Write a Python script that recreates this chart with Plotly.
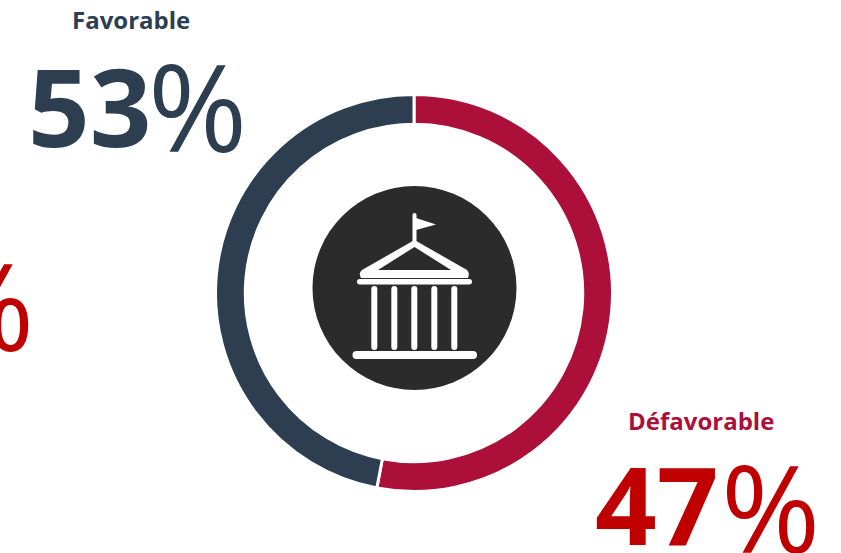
import plotly.graph_objects as go

categories = ["Défavorable", "Favorable"]
drawn_shares = [53, 47]
slice_colors = ["#AB0F3A", "#2C3E50"]
labels = ["Favorable", "Défavorable"]
label_pct = ["53", "47"]

W, H = 841, 553
NAVY, CRIMSON, RED = "#2C3E50", "#AB0F3A", "#C00000"


def rrect(x0, y0, x1, y1, fill="white"):
    r = min(x1 - x0, y1 - y0) / 2
    p = (f"M{x0+r},{y0} L{x1-r},{y0} Q{x1},{y0} {x1},{y0+r} L{x1},{y1-r} Q{x1},{y1} {x1-r},{y1} "
         f"L{x0+r},{y1} Q{x0},{y1} {x0},{y1-r} L{x0},{y0+r} Q{x0},{y0} {x0+r},{y0} Z")
    return dict(type="path", path=p, fillcolor=fill, line_width=0, xref="x", yref="y", layer="above")


shapes = [
    dict(type="circle", x0=312.5, x1=516.5, y0=186, y1=390, fillcolor="#2B2B2B", line_width=0,
         xref="x", yref="y", layer="above"),
    rrect(412.5, 213, 416.5, 243),
    dict(type="path", path="M416,218 L436,224.5 L416,230 Z", fillcolor="white", line_width=0,
         xref="x", yref="y", layer="above"),
    dict(type="path",
         path="M414.5,240 L467,270 Q470,273 468,278 L361,278 Q358,273 362,270 Z M414.5,247 L378,270 L451,270 Z",
         fillcolor="white", line_width=0, xref="x", yref="y", layer="above"),
    rrect(357, 279, 472, 284.5),
    rrect(352.5, 351, 477, 359),
]
for cx in [374.3, 394.3, 414.3, 434.3, 454.3]:
    shapes.append(rrect(cx - 3, 286, cx + 3, 350))

fig = go.Figure()
fig.add_trace(go.Scatter(x=[], y=[], showlegend=False))
fig.add_trace(go.Pie(
    labels=categories, values=drawn_shares, hole=0.85, sort=False, direction="clockwise", rotation=0,
    marker=dict(colors=slice_colors, line=dict(color="white", width=3)),
    textinfo="none", hoverinfo="label+percent", showlegend=False,
    domain=dict(x=[215.5 / W, 612.5 / W], y=[1 - 491.5 / H, 1 - 94.5 / H]),
))


def ann(x, y, html, size, color, anchor="center", font="Open Sans"):
    return dict(x=x, y=y, xref="x", yref="y", text=html, showarrow=False, xanchor=anchor, yanchor="middle",
                font=dict(family=font, size=size, color=color), align="center")


annotations = [
    ann(131, 19, f"<b>{labels[0]}</b>", 24, NAVY),
    ann(26, 105, f"<b>{label_pct[0]}</b>", 108, NAVY, "left"),
    ann(146, 105, "%", 120, NAVY, "left"),
    ann(701, 420, f"<b>{labels[1]}</b>", 24, CRIMSON),
    ann(593, 503, f"<b>{label_pct[1]}</b>", 108, RED, "left"),
    ann(719, 506, "%", 120, RED, "left"),
    ann(36, 304, "%", 120, RED, "right"),
]

fig.update_layout(
    width=W, height=H, margin=dict(l=0, r=0, t=0, b=0), paper_bgcolor="white", plot_bgcolor="rgba(0,0,0,0)",
    xaxis=dict(range=[0, W], visible=False, fixedrange=True),
    yaxis=dict(range=[H, 0], visible=False, fixedrange=True),
    shapes=shapes, annotations=annotations, showlegend=False,
)
fig.write_html("out.html", config=dict(displayModeBar=False),
               post_script="document.body.style.margin='0';document.body.style.overflow='hidden';")
